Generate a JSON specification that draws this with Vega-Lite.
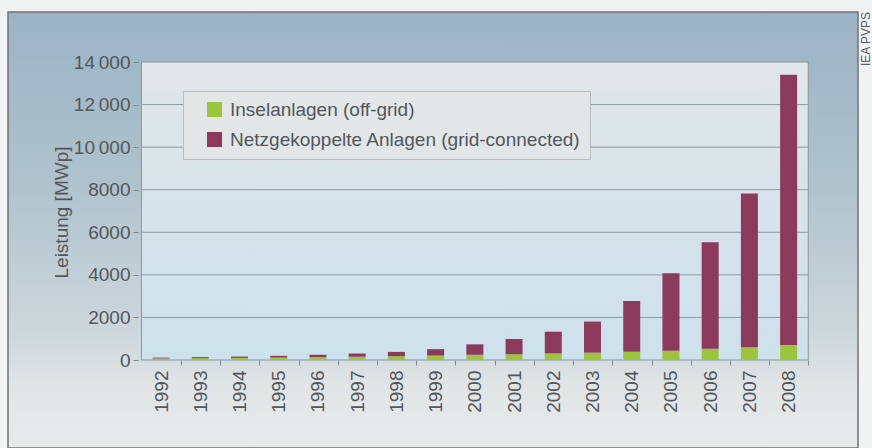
{
  "$schema": "https://vega.github.io/schema/vega-lite/v6.json",
  "width": 850,
  "height": 436,
  "autosize": {"type": "none"},
  "padding": {"left": 8, "top": 12, "right": 14, "bottom": 0},
  "background": "#f1f2f2",
  "config": {
    "font": "Liberation Sans",
    "view": {
      "fill": {"gradient": "linear", "x1": 0, "y1": 0, "x2": 0, "y2": 1,
        "stops": [
          {"offset": 0, "color": "#9ab3c4"},
          {"offset": 0.4, "color": "#b0c3cd"},
          {"offset": 0.75, "color": "#cfd8dc"},
          {"offset": 0.86, "color": "#e1e5e6"},
          {"offset": 1, "color": "#e9ebeb"}
        ]},
      "stroke": "#6f7478",
      "strokeWidth": 1.5
    }
  },
  "title": {
    "text": "IEA PVPS",
    "orient": "right",
    "anchor": "start",
    "angle": 270,
    "align": "right",
    "baseline": "top",
    "fontSize": 12,
    "fontWeight": "normal",
    "color": "#555a5e",
    "offset": -9
  },
  "resolve": {"axis": {"x": "independent", "y": "independent"}},
  "datasets": {
    "pv": [
      {"year": 1992, "series": "Inselanlagen (off-grid)", "value": 75},
      {"year": 1992, "series": "Netzgekoppelte Anlagen (grid-connected)", "value": 35},
      {"year": 1993, "series": "Inselanlagen (off-grid)", "value": 90},
      {"year": 1993, "series": "Netzgekoppelte Anlagen (grid-connected)", "value": 46},
      {"year": 1994, "series": "Inselanlagen (off-grid)", "value": 100},
      {"year": 1994, "series": "Netzgekoppelte Anlagen (grid-connected)", "value": 60},
      {"year": 1995, "series": "Inselanlagen (off-grid)", "value": 115},
      {"year": 1995, "series": "Netzgekoppelte Anlagen (grid-connected)", "value": 80},
      {"year": 1996, "series": "Inselanlagen (off-grid)", "value": 135},
      {"year": 1996, "series": "Netzgekoppelte Anlagen (grid-connected)", "value": 110},
      {"year": 1997, "series": "Inselanlagen (off-grid)", "value": 155},
      {"year": 1997, "series": "Netzgekoppelte Anlagen (grid-connected)", "value": 150},
      {"year": 1998, "series": "Inselanlagen (off-grid)", "value": 180},
      {"year": 1998, "series": "Netzgekoppelte Anlagen (grid-connected)", "value": 200},
      {"year": 1999, "series": "Inselanlagen (off-grid)", "value": 210},
      {"year": 1999, "series": "Netzgekoppelte Anlagen (grid-connected)", "value": 300},
      {"year": 2000, "series": "Inselanlagen (off-grid)", "value": 245},
      {"year": 2000, "series": "Netzgekoppelte Anlagen (grid-connected)", "value": 490},
      {"year": 2001, "series": "Inselanlagen (off-grid)", "value": 275},
      {"year": 2001, "series": "Netzgekoppelte Anlagen (grid-connected)", "value": 715},
      {"year": 2002, "series": "Inselanlagen (off-grid)", "value": 310},
      {"year": 2002, "series": "Netzgekoppelte Anlagen (grid-connected)", "value": 1020},
      {"year": 2003, "series": "Inselanlagen (off-grid)", "value": 345},
      {"year": 2003, "series": "Netzgekoppelte Anlagen (grid-connected)", "value": 1460},
      {"year": 2004, "series": "Inselanlagen (off-grid)", "value": 385},
      {"year": 2004, "series": "Netzgekoppelte Anlagen (grid-connected)", "value": 2390},
      {"year": 2005, "series": "Inselanlagen (off-grid)", "value": 440},
      {"year": 2005, "series": "Netzgekoppelte Anlagen (grid-connected)", "value": 3640},
      {"year": 2006, "series": "Inselanlagen (off-grid)", "value": 530},
      {"year": 2006, "series": "Netzgekoppelte Anlagen (grid-connected)", "value": 5000},
      {"year": 2007, "series": "Inselanlagen (off-grid)", "value": 600},
      {"year": 2007, "series": "Netzgekoppelte Anlagen (grid-connected)", "value": 7220},
      {"year": 2008, "series": "Inselanlagen (off-grid)", "value": 700},
      {"year": 2008, "series": "Netzgekoppelte Anlagen (grid-connected)", "value": 12700}
    ],
    "grid": [
      {"v": 2000}, {"v": 4000}, {"v": 6000}, {"v": 8000}, {"v": 10000}, {"v": 12000}
    ]
  },
  "layer": [
    {
      "data": {"values": [{}]},
      "mark": {
        "type": "rect",
        "fill": {"gradient": "linear", "x1": 0, "y1": 0, "x2": 0, "y2": 1,
          "stops": [
            {"offset": 0, "color": "#e2e7e9"},
            {"offset": 0.5, "color": "#d6e3ea"},
            {"offset": 1, "color": "#cde1ec"}
          ]},
        "stroke": "#8a979f",
        "strokeWidth": 1
      },
      "encoding": {
        "x": {"datum": 1991.5, "type": "quantitative", "axis": null},
        "x2": {"datum": 2008.5},
        "y": {"datum": 14000, "type": "quantitative", "axis": null},
        "y2": {"datum": 0}
      }
    },
    {
      "data": {"name": "grid"},
      "mark": {"type": "rule", "color": "#8d9aa1", "strokeWidth": 1},
      "encoding": {
        "x": {"datum": 1991.5, "type": "quantitative", "axis": null},
        "x2": {"datum": 2008.5},
        "y": {"field": "v", "type": "quantitative", "axis": null}
      }
    },
    {
      "data": {"name": "pv"},
      "mark": {"type": "bar", "width": 17},
      "encoding": {
        "x": {
          "field": "year",
          "type": "quantitative",
          "scale": {"domain": [1988.2246, 2009.6413], "nice": false, "zero": false},
          "axis": {
            "orient": "bottom",
            "offset": -88,
            "values": [1992, 1993, 1994, 1995, 1996, 1997, 1998, 1999, 2000, 2001, 2002, 2003, 2004, 2005, 2006, 2007, 2008],
            "format": "d",
            "domain": false,
            "grid": false,
            "labelAngle": 270,
            "labelAlign": "right",
            "labelBaseline": "middle",
            "labelFontSize": 19,
            "labelColor": "#51575b",
            "labelPadding": 5,
            "labelOffset": -19.85,
            "labelFlush": false,
            "labelOverlap": false,
            "tickSize": 5,
            "tickOffset": 19.85,
            "tickColor": "#7d898f",
            "title": null
          }
        },
        "y": {
          "field": "value",
          "type": "quantitative",
          "stack": "zero",
          "scale": {"domain": [-4134, 16349], "nice": false, "zero": false},
          "axis": {
            "orient": "left",
            "offset": -130,
            "values": [0, 2000, 4000, 6000, 8000, 10000, 12000, 14000],
            "domain": false,
            "grid": false,
            "tickSize": 5,
            "tickColor": "#7d898f",
            "labelFontSize": 19,
            "labelColor": "#51575b",
            "labelPadding": 3,
            "labelExpr": "datum.value >= 10000 ? format(datum.value / 1000, 'd') + '\u2009000' : format(datum.value, 'd')",
            "title": "Leistung [MWp]",
            "titleFontSize": 19,
            "titleFontWeight": "normal",
            "titleColor": "#51575b",
            "titleAngle": 270,
            "titleAlign": "center",
            "titleBaseline": "middle",
            "titleX": -77,
            "titleY": 200
          }
        },
        "color": {
          "field": "series",
          "type": "nominal",
          "scale": {
            "domain": ["Inselanlagen (off-grid)", "Netzgekoppelte Anlagen (grid-connected)"],
            "range": ["#9dc43d", "#8c3a5b"]
          },
          "legend": {
            "orient": "none",
            "legendX": 175,
            "legendY": 79,
            "title": null,
            "fillColor": "#e3e6e7",
            "strokeColor": "#b7bcbf",
            "padding": 9,
            "symbolType": "square",
            "symbolSize": 225,
            "symbolStrokeWidth": 0,
            "symbolOffset": 13,
            "labelOffset": 6,
            "labelFontSize": 19,
            "labelColor": "#51575b",
            "labelLimit": 600,
            "rowPadding": 10
          }
        },
        "order": {"field": "series", "sort": "ascending"}
      }
    }
  ]
}
